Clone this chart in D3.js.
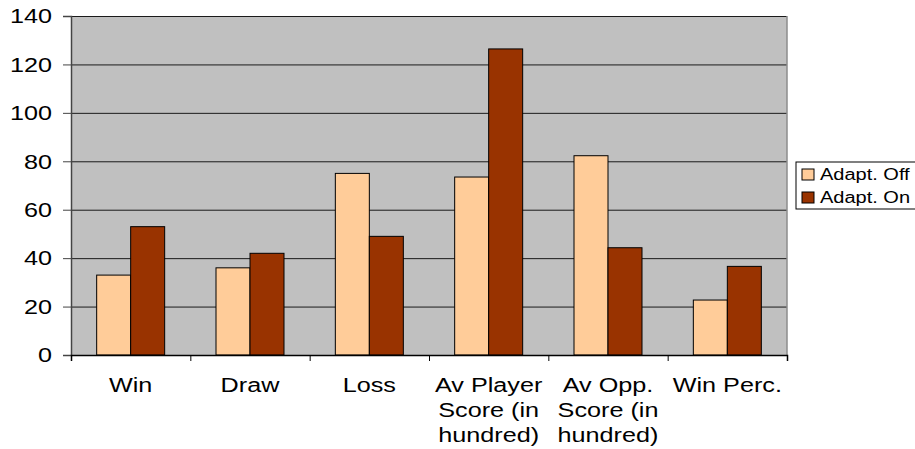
<!DOCTYPE html>
<html>
  <head>
    <meta charset="utf-8">
    <title>Adaptation Bar Chart</title>
    <script src="https://d3js.org/d3.v7.min.js"></script>
    <style>
      body { margin: 0; background: #fff; }
      text { font-family: "Liberation Sans", Arial, sans-serif; fill: #000; }
    </style>
  </head>
  <body>
    <script>
      // Data
      var categories = ["Win", "Draw", "Loss", "Av Player\nScore (in\nhundred)", "Av Opp.\nScore (in\nhundred)", "Win Perc."];
      var seriesNames = ["Adapt. Off", "Adapt. On"];
      var adaptOff = [33, 36, 75, 73.5, 82.3, 22.7];
      var adaptOn = [53, 42, 49, 126.4, 44.3, 36.6];
      var yTicks = [0, 20, 40, 60, 80, 100, 120, 140];
      var colors = ["#FFCC99", "#993300"];

      var margin = {top: 16, right: 128, bottom: 94, left: 71};
      var width = 915 - margin.left - margin.right;   // 716
      var height = 449 - margin.top - margin.bottom;  // 339
      var sx = 1.2; // horizontal stretch of the original text

      var svg = d3.select("body")
                  .append("svg")
                  .attr("width", 915)
                  .attr("height", 449);

      var g = svg.append("g")
                 .attr("transform", "translate(" + margin.left + "," + margin.top + ")");

      // Scales
      var x = d3.scaleBand()
                .domain(categories)
                .range([0, width])
                .padding(0);

      var x1 = d3.scaleBand()
                 .domain(seriesNames)
                 .range([0, x.bandwidth()])
                 .paddingInner(0)
                 .paddingOuter(0.755);

      var y = d3.scaleLinear()
                .domain([0, 140])
                .range([height, 0]);

      // Plot background
      g.append("rect")
       .attr("width", width)
       .attr("height", height)
       .attr("fill", "#C0C0C0");

      // Gridlines
      g.append("g")
       .attr("class", "grid")
       .call(d3.axisLeft(y).tickValues(yTicks).tickSize(-width).tickFormat(""))
       .call(function(s) {
         s.select(".domain").remove();
         s.selectAll("line").attr("stroke", "#1a1a1a").attr("stroke-width", 1);
       });

      // Right border of plot area
      g.append("line")
       .attr("x1", width).attr("x2", width)
       .attr("y1", 0).attr("y2", height)
       .attr("stroke", "#8c8c8c")
       .attr("stroke-width", 1.5);

      // Bars
      var table = categories.map(function(c, i) {
        return {cat: c, values: [
          {name: seriesNames[0], value: adaptOff[i], color: colors[0]},
          {name: seriesNames[1], value: adaptOn[i], color: colors[1]}
        ]};
      });

      g.selectAll(".group")
       .data(table)
       .enter()
       .append("g")
       .attr("class", "group")
       .attr("transform", function(d) { return "translate(" + x(d.cat) + ",0)"; })
       .selectAll("rect")
       .data(function(d) { return d.values; })
       .enter()
       .append("rect")
       .attr("x", function(d) { return x1(d.name); })
       .attr("width", x1.bandwidth())
       .attr("y", function(d) { return y(d.value); })
       .attr("height", function(d) { return height - y(d.value); })
       .attr("fill", function(d) { return d.color; })
       .attr("stroke", "#000")
       .attr("stroke-width", 1);

      // Y axis
      g.append("g")
       .call(d3.axisLeft(y).tickValues(yTicks).tickSize(8).tickPadding(0))
       .call(function(s) {
         s.select(".domain").attr("stroke", "#444").attr("stroke-width", 1.5);
         s.selectAll("line").attr("stroke", "#444");
         s.selectAll("text")
          .attr("x", -19 / sx)
          .attr("transform", "scale(" + sx + ",1)")
          .style("font-size", "21px");
       });

      // X axis: boundary ticks
      var xb = d3.scaleLinear().domain([0, categories.length]).range([0, width]);
      g.append("g")
       .attr("transform", "translate(0," + height + ")")
       .call(d3.axisBottom(xb).ticks(categories.length).tickSize(6).tickFormat(""))
       .call(function(s) {
         s.select(".domain").attr("stroke", "#000").attr("stroke-width", 1.5);
         s.selectAll("line").attr("stroke", "#000");
       });

      // X axis: category labels
      g.append("g")
       .attr("transform", "translate(0," + height + ")")
       .call(d3.axisBottom(x).tickSize(0))
       .call(function(s) {
         s.select(".domain").remove();
         s.selectAll("text").each(function(d) {
           var t = d3.select(this);
           var lines = d.split("\n");
           t.text(null)
            .attr("y", 37)
            .attr("dy", null)
            .attr("transform", "scale(" + sx + ",1)")
            .style("font-size", "21px");
           lines.forEach(function(line, i) {
             t.append("tspan")
              .attr("x", 0)
              .attr("dy", i === 0 ? 0 : 25)
              .text(line);
           });
         });
       });

      // Legend
      var legend = svg.append("g");
      legend.append("rect")
            .attr("x", 796).attr("y", 162)
            .attr("width", 140).attr("height", 47)
            .attr("fill", "#fff")
            .attr("stroke", "#000")
            .attr("stroke-width", 1);

      seriesNames.forEach(function(name, i) {
        legend.append("rect")
              .attr("x", 802).attr("y", 169 + i * 23)
              .attr("width", 12).attr("height", 11)
              .attr("fill", colors[i])
              .attr("stroke", "#000");
        legend.append("text")
              .attr("transform", "translate(820," + (180 + i * 23) + ") scale(1.25,1)")
              .style("font-size", "16px")
              .text(name);
      });
    </script>
  </body>
</html>
